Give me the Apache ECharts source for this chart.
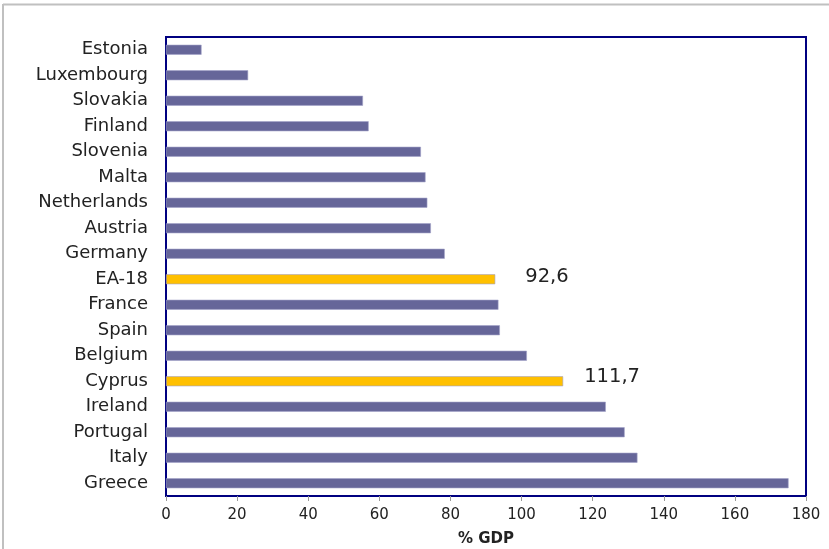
<!DOCTYPE html>
<html>
<head>
<meta charset="utf-8">
<script src="https://cdn.jsdelivr.net/npm/echarts@6/dist/echarts.min.js"></script>
<style>html,body{margin:0;padding:0;background:#fff}#c{width:829px;height:549px}</style>
</head>
<body>
<div id="c"></div>
<script>
const categories = ['Estonia','Luxembourg','Slovakia','Finland','Slovenia','Malta','Netherlands','Austria','Germany','EA-18','France','Spain','Belgium','Cyprus','Ireland','Portugal','Italy','Greece'];
const values = [10.0, 23.1, 55.4, 57.0, 71.7, 73.0, 73.5, 74.5, 78.4, 92.6, 93.5, 93.9, 101.5, 111.7, 123.7, 129.0, 132.6, 175.1];
const highlighted = ['EA-18', 'Cyprus'];
const labelled = {'EA-18': '92,6', 'Cyprus': '111,7'};
const xTicks = [0, 20, 40, 60, 80, 100, 120, 140, 160, 180];

const chart = echarts.init(document.getElementById('c'));
const data = categories.map((c, i) => {
  const item = { value: values[i] };
  if (highlighted.includes(c)) item.itemStyle = { color: '#FFC000' };
  if (labelled[c]) {
    item.label = {
      show: true, position: 'right',
      distance: c === 'EA-18' ? 30 : 21,
      offset: c === 'EA-18' ? [0, -2] : [0, -4],
      formatter: labelled[c],
      fontFamily: 'DejaVu Sans', fontSize: 19.5, color: '#222'
    };
  }
  return item;
});
chart.setOption({
  animation: false,
  backgroundColor: '#fff',
  graphic: [
    { type: 'line', shape: { x1: 3, y1: 4.5, x2: 829, y2: 4.5 }, style: { stroke: '#c0c0c0', lineWidth: 2 } },
    { type: 'line', shape: { x1: 3, y1: 4, x2: 3, y2: 549 }, style: { stroke: '#c0c0c0', lineWidth: 2 } }
  ],
  grid: { left: 166, right: 23, top: 37, bottom: 53, outerBoundsMode: 'none', containLabel: false, show: true, borderColor: '#000080', borderWidth: 2, backgroundColor: '#fff' },
  xAxis: {
    type: 'value', min: xTicks[0], max: xTicks[xTicks.length - 1], interval: 20,
    name: '% GDP', nameLocation: 'middle', nameGap: 36,
    nameTextStyle: { fontFamily: 'DejaVu Sans', fontWeight: 'bold', fontSize: 15, color: '#222' },
    axisLine: { show: false },
    axisTick: { show: true, length: 5, lineStyle: { color: '#999' } },
    axisLabel: { margin: 12, fontFamily: 'DejaVu Sans', fontSize: 15, color: '#222' },
    splitLine: { show: false }
  },
  yAxis: {
    type: 'category', data: categories, inverse: true,
    axisLine: { show: false }, axisTick: { show: false },
    axisLabel: { margin: 18, fontFamily: 'DejaVu Sans', fontSize: 18, color: '#222' }
  },
  series: [{
    type: 'bar', data: data, barWidth: 10,
    itemStyle: { color: '#666699', borderColor: '#a3a3c8', borderWidth: 0.6 }
  }]
});
</script>
</body>
</html>
